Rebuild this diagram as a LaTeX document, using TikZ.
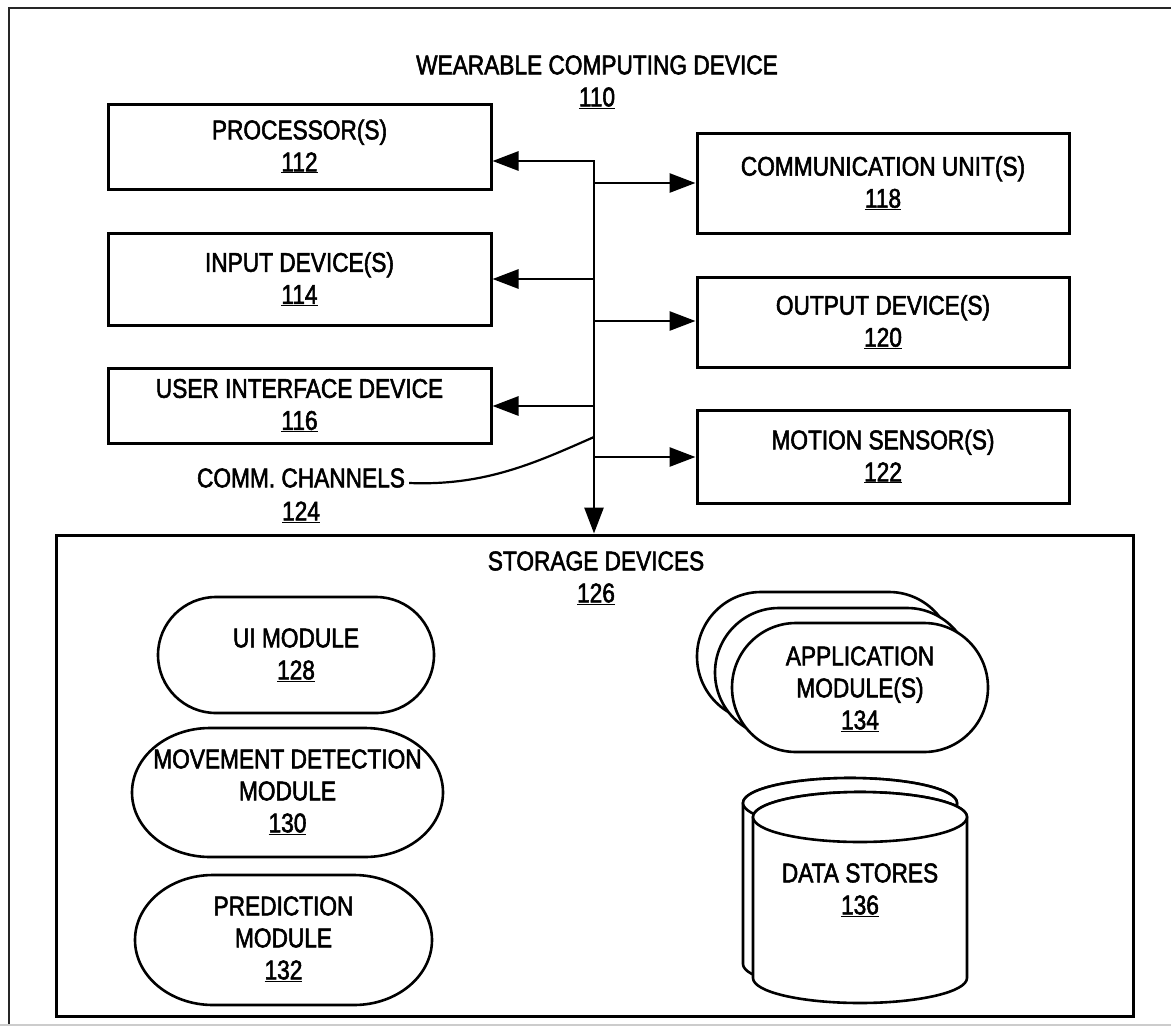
\documentclass[tikz,border=0pt]{standalone}
\usepackage{fontspec}
\setmainfont[FakeStretch=0.84,FakeBold=2]{Liberation Sans}
\usetikzlibrary{arrows.meta}

% rounded module outline with elliptical ends: left, top, right, bottom, end radius
\newcommand\modoutline[5]{%
  \filldraw[modline] (#1+#5,#2) -- (#3-#5,#2)
    arc[start angle=-90,end angle=90,x radius=#5,y radius={(#4-#2)/2}]
    -- (#1+#5,#4)
    arc[start angle=90,end angle=270,x radius=#5,y radius={(#4-#2)/2}]
    -- cycle;}
% storage drum: centre x, top rim y, bottom rim y, radius
\newcommand\drumoutline[4]{%
  \filldraw[modline] (#1-#4,#2) -- (#1-#4,#3)
    arc[start angle=180,end angle=0,x radius=#4,y radius=25]
    -- (#1+#4,#2)
    arc[start angle=0,end angle=-180,x radius=#4,y radius=25] -- cycle;
  \draw[modline] (#1,#2) ellipse[x radius=#4,y radius=25];}

\begin{document}
\begin{tikzpicture}[x=1pt,y=-1pt,
  every node/.style={font=\fontsize{27}{32}\selectfont, align=center, inner sep=0pt},
  unitbox/.style={draw, line width=3pt, minimum width=383pt},
  rightbox/.style={draw, line width=3pt, minimum width=372pt},
  modline/.style={draw=black, fill=white, line width=2.6pt},
  arr/.style={line width=2.8pt, -{Triangle[length=26pt,width=19pt]}},
  busline/.style={line width=2.8pt, {Triangle[length=26pt,width=19pt]}-{Triangle[length=26pt,width=19pt]}},
]
\useasboundingbox (0,0) rectangle (1171,1026);

% outer device frame
\draw[line width=2.8pt, black!85] (9,1025) -- (9,8) -- (1185,8);
\draw[line width=1.6pt, black!20] (0,1025) -- (1171,1025);

% device title
\node (dev) at (597,82) {WEARABLE COMPUTING DEVICE\\\underline{110}};

% left column
\node[unitbox, minimum height=85pt] (proc) at (299.5,146.5) {PROCESSOR(S)\\\underline{112}};
\node[unitbox, minimum height=92pt] (inp) at (299.5,279) {INPUT DEVICE(S)\\\underline{114}};
\node[unitbox, minimum height=75pt] (uid) at (299.5,405.5) {USER INTERFACE DEVICE\\\underline{116}};

% right column
\node[rightbox, minimum height=100pt] (comm) at (883,183) {COMMUNICATION UNIT(S)\\\underline{118}};
\node[rightbox, minimum height=90pt] (outd) at (883,322) {OUTPUT DEVICE(S)\\\underline{120}};
\node[rightbox, minimum height=93pt] (mot) at (883,456.5) {MOTION SENSOR(S)\\\underline{122}};

% storage devices
\node[draw, line width=3pt, minimum width=1077pt, minimum height=481pt] (store) at (594.5,775.5) {};
\node (storet) at (596,578) {STORAGE DEVICES\\\underline{126}};

% communication channels bus
\coordinate (bustop) at (594,161);
\coordinate (b118) at (594,183);
\coordinate (b114) at (594,279);
\coordinate (b120) at (594,321);
\coordinate (b116) at (594,406);
\coordinate (bcc) at (594,437);
\coordinate (b122) at (594,457);
\draw[busline] (proc.east |- bustop) -- (bustop) -- (bustop |- store.north);
\draw[arr] (b118) -- (comm.west |- b118);
\draw[arr] (b114) -- (inp.east |- b114);
\draw[arr] (b120) -- (outd.west |- b120);
\draw[arr] (b116) -- (uid.east |- b116);
\draw[arr] (b122) -- (mot.west |- b122);

\node (cc) at (301,478) {COMM. CHANNELS};
\node (cc124) at (301,512) {\underline{124}};
\draw[line width=2.2pt] ([xshift=4pt,yshift=-5pt]cc.east) .. controls (485,486) and (535,463) .. (bcc);

% software modules
\modoutline{158}{597}{434}{713}{58}
\node (uim) at (296,655) {UI MODULE\\\underline{128}};
\modoutline{132}{728}{443}{857}{78}
\node (mdm) at (287.5,792) {MOVEMENT DETECTION\\MODULE\\\underline{130}};
\modoutline{135}{875}{432}{1005}{78}
\node (pm) at (283.5,939) {PREDICTION\\MODULE\\\underline{132}};

\modoutline{697}{592}{953}{721}{64}
\modoutline{715}{608}{971}{737}{64}
\modoutline{732}{623}{988}{752}{64}
\node (app) at (860,689) {APPLICATION\\MODULE(S)\\\underline{134}};

\drumoutline{850}{803}{964}{107}
\drumoutline{860}{817}{978}{107}
\node (ds) at (860,890) {DATA STORES\\\underline{136}};
\end{tikzpicture}
\end{document}
